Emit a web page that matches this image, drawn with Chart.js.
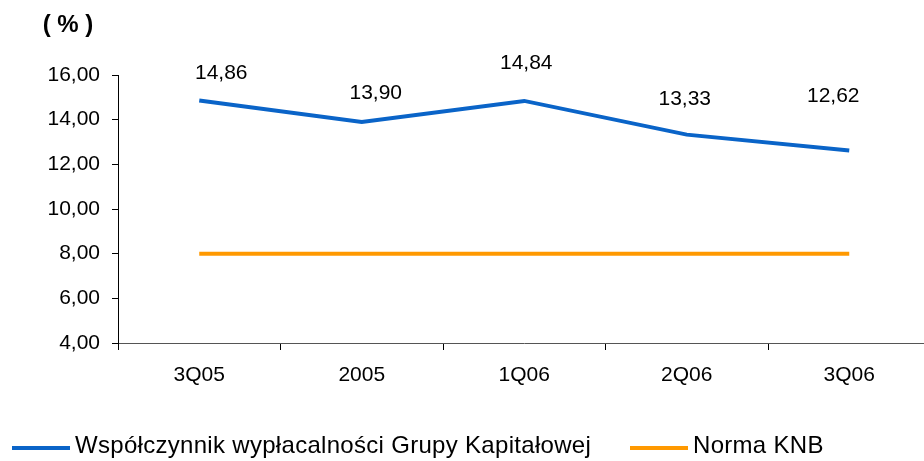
<!DOCTYPE html>
<html>
<head>
<meta charset="utf-8">
<script src="https://cdn.jsdelivr.net/npm/chart.js@4.4.1/dist/chart.umd.min.js"></script>
<style>
  html, body { margin: 0; padding: 0; background: #fff; overflow: hidden; }
  #wrap { position: relative; width: 932px; height: 461px; }
</style>
</head>
<body>
<div id="wrap"><canvas id="chart"></canvas></div>
<script>
// data
const quarters = ['3Q05', '2005', '1Q06', '2Q06', '3Q06'];
const solvencyRatio = [14.86, 13.90, 14.84, 13.33, 12.62];
const knbNorm = [8.00, 8.00, 8.00, 8.00, 8.00];
const yTicks = { min: 4, max: 16, step: 2 };
const unitLabel = '( % )';

// label placement relative to each point (px): the source nudged these by hand
const labelNudge = [[22, -27], [14, -29], [2, -38], [-2, -35], [-16, -54]];
const legendX = [12, 630];

const FONT = '"Liberation Sans", Arial, sans-serif';
const fmt = (v) => v.toFixed(2).replace('.', ',');

const extras = {
  id: 'extras',
  afterDatasetsDraw(chart) {
    const ctx = chart.ctx;
    ctx.save();
    // value labels on the ratio line
    const meta = chart.getDatasetMeta(0);
    ctx.font = '21px ' + FONT;
    ctx.fillStyle = '#000';
    ctx.textAlign = 'center';
    ctx.textBaseline = 'middle';
    meta.data.forEach((pt, i) => {
      const [dx, dy] = labelNudge[i];
      ctx.fillText(fmt(solvencyRatio[i]), pt.x + dx, pt.y + dy);
    });
    // unit label top-left
    ctx.font = 'bold 24px ' + FONT;
    ctx.fillText(unitLabel, 68, 25);
    // legend
    ctx.textAlign = 'left';
    ctx.font = '24px ' + FONT;
    if ('letterSpacing' in ctx) ctx.letterSpacing = '0.3px';
    chart.data.datasets.forEach((ds, i) => {
      const x = legendX[i];
      ctx.strokeStyle = ds.borderColor;
      ctx.lineWidth = 4;
      ctx.beginPath();
      ctx.moveTo(x, 448);
      ctx.lineTo(x + 58, 448);
      ctx.stroke();
      ctx.fillText(ds.label, x + 63, 446);
    });
    ctx.restore();
  }
};

new Chart(document.getElementById('chart'), {
  type: 'line',
  data: {
    labels: quarters,
    datasets: [
      {
        label: 'Współczynnik wypłacalności Grupy Kapitałowej',
        data: solvencyRatio,
        borderColor: '#0a64c8',
        borderWidth: 4,
        pointRadius: 0,
        tension: 0,
        fill: false,
      },
      {
        label: 'Norma KNB',
        data: knbNorm,
        borderColor: '#ff9900',
        borderWidth: 4,
        pointRadius: 0,
        tension: 0,
        fill: false,
      },
    ],
  },
  options: {
    responsive: true,
    maintainAspectRatio: false,
    animation: false,
    layout: { padding: { top: 75, right: 1.5, left: 0, bottom: 0 } },
    scales: {
      x: {
        offset: true,
        grid: { offset: true, drawOnChartArea: false, tickLength: 7, color: '#000' },
        border: { color: '#555', width: 1 },
        ticks: { color: '#000', font: { family: FONT, size: 21 }, padding: 13, maxRotation: 0 },
        afterFit: (s) => { s.height = 118; },
      },
      y: {
        min: yTicks.min,
        max: yTicks.max,
        grid: { drawOnChartArea: false, tickLength: 6, color: '#000' },
        border: { color: '#000', width: 1 },
        ticks: {
          stepSize: yTicks.step,
          color: '#000',
          font: { family: FONT, size: 21 },
          padding: 12,
          callback: (v) => fmt(v),
        },
        afterFit: (s) => { s.width = 118; },
      },
    },
    plugins: {
      legend: { display: false },
      tooltip: { enabled: false },
    },
  },
  plugins: [extras],
});
</script>
</body>
</html>
